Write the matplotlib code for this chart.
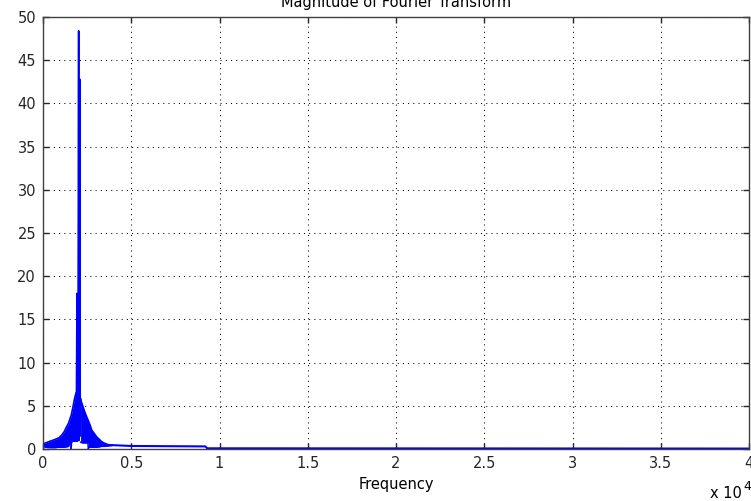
import matplotlib.pyplot as plt
import numpy as np

plt.rcParams['font.family'] = ['DejaVu Sans']

# spectrum (Hz, magnitude)
f_left = [0, 150, 400, 680, 900, 1060, 1200, 1343, 1450, 1530, 1580, 1600, 1620, 1660, 1720, 1773, 1830, 1880]
up_left = [0.6, 0.7, 0.9, 1.1, 1.3, 1.6, 2.0, 2.6, 3.0, 3.5, 3.8, 3.9, 4.1, 4.5, 5.1, 5.7, 6.2, 6.5]
lo_left = [0.3, 0.2, 0.15, 0.15, 0.2, 0.2, 0.2, 0.25, 0.3, 0.8, 0.8, 0.0, 0.85, 0.85, 0.9, 0.9, 0.9, 0.9]

f_spike = [1880, 1926, 1950, 1975, 2020, 2045, 2080, 2110, 2130]
m_spike = [0.9, 18.0, 0.9, 1.0, 48.4, 1.0, 42.8, 1.5, 5.8]

f_right = [2130, 2153, 2250, 2380, 2480, 2540, 2567, 2600, 2680, 2759, 2900, 3043, 3200, 3326, 3500, 3700, 3900]
up_right = [5.8, 5.6, 5.0, 4.2, 3.7, 3.4, 3.3, 3.1, 2.7, 2.2, 1.8, 1.4, 1.1, 0.85, 0.65, 0.5, 0.45]
lo_right = [0.8, 0.75, 0.7, 0.7, 0.7, 0.7, 0.0, 0.2, 0.2, 0.2, 0.2, 0.2, 0.25, 0.3, 0.3, 0.35, 0.4]

f_tail = [3900, 5000, 9200, 9300, 40000]
m_tail = [0.45, 0.35, 0.3, 0.08, 0.05]

xticks = [0, 5000, 10000, 15000, 20000, 25000, 30000, 35000, 40000]
xticklabels = ['0', '0.5', '1', '1.5', '2', '2.5', '3', '3.5', '4']
yticks = [0, 5, 10, 15, 20, 25, 30, 35, 40, 45, 50]

blue = '#0000ff'

fig = plt.figure(figsize=(7.51, 5.01), dpi=100)
ax = fig.add_axes([43/751, 52/501, 706/751, 432/501])

ax.fill_between(f_left, lo_left, up_left, color=blue, lw=0)
ax.plot(f_left, up_left, color=blue, lw=1.2)
ax.plot(f_left, lo_left, color=blue, lw=1.0)
ax.fill_between(f_right, lo_right, up_right, color=blue, lw=0)
ax.plot(f_right, up_right, color=blue, lw=1.2)
ax.plot(f_right, lo_right, color=blue, lw=1.0)
ax.plot(f_spike, m_spike, color=blue, lw=1.2)
ax.plot(f_tail, m_tail, color=blue, lw=1.5)

ax.set_xlim(0, 40000)
ax.set_ylim(0, 50)
ax.set_xticks(xticks)
ax.set_xticklabels(xticklabels)
ax.set_yticks(yticks)
ax.grid(True, color='k', linestyle=(0, (1, 4)), linewidth=0.75)
ax.tick_params(direction='in', length=4, width=1, top=True, right=True,
               labelsize=10.5, colors='0.15')
ax.tick_params(axis='x', pad=5)
ax.tick_params(axis='y', pad=5)
for s in ax.spines.values():
    s.set_color('0.25')
    s.set_linewidth(1)

fig.text(396/751, 1 - 7/501, 'Magnitude of Fourier Transform', ha='center',
         va='baseline', fontsize=10.5)
fig.text(396/751, 1 - 485/501, 'Frequency', ha='center', va='center', fontsize=10.5)
fig.text(742/751, 1 - 494/501, 'x 10', ha='right', va='center', fontsize=10.5)
fig.text(743/751, 1 - 486/501, '4', ha='left', va='center', fontsize=9)

fig.savefig('out.png', dpi=100)
